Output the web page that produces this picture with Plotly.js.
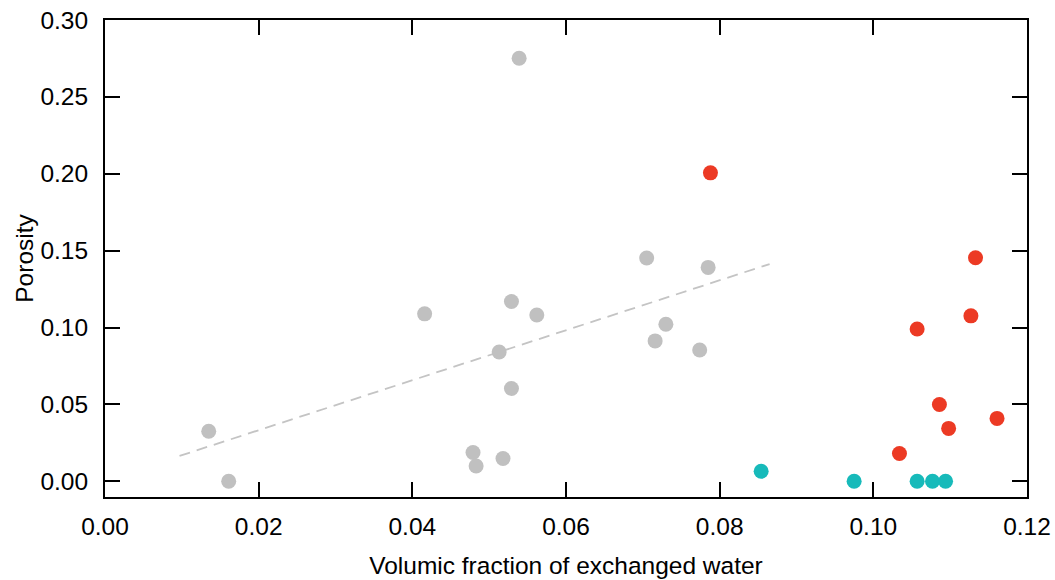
<!DOCTYPE html>
<html>
<head>
<meta charset="utf-8">
<script src="https://cdn.plot.ly/plotly-3.0.1.min.js"></script>
<style>html,body{margin:0;padding:0;background:#fff;}#chart{width:1055px;height:580px;}</style>
</head>
<body>
<div id="chart"></div>
<script>
// Gray group
const grayX = [0.0135, 0.0161, 0.0416, 0.0479, 0.0483, 0.0518, 0.0513, 0.0529, 0.0529, 0.0562, 0.0539, 0.0705, 0.0785, 0.0730, 0.0716, 0.0774];
const grayY = [0.0326, 0.0000, 0.1089, 0.0187, 0.0100, 0.0148, 0.0841, 0.1169, 0.0604, 0.1082, 0.2751, 0.1452, 0.1391, 0.1021, 0.0913, 0.0854];
// Red group
const redX = [0.0788, 0.1133, 0.1127, 0.1057, 0.1086, 0.1161, 0.1098, 0.1034];
const redY = [0.2006, 0.1454, 0.1076, 0.0991, 0.0500, 0.0409, 0.0344, 0.0181];
// Teal group
const tealX = [0.0854, 0.0975, 0.1057, 0.1077, 0.1094];
const tealY = [0.0065, 0.0000, 0.0000, 0.0000, 0.0000];
// Trend line for gray group
const trendX = [0.0097, 0.0865];
const trendY = [0.0165, 0.1413];

const font = {family: 'Liberation Sans, Arial, sans-serif', color: '#000'};

const traces = [
  {x: trendX, y: trendY, mode: 'lines', line: {color: '#c4c4c4', width: 1.8, dash: '11px,7px'}, hoverinfo: 'skip'},
  {x: grayX, y: grayY, mode: 'markers', marker: {color: '#c0c0c0', size: 15}},
  {x: redX, y: redY, mode: 'markers', marker: {color: '#ec3a24', size: 15}},
  {x: tealX, y: tealY, mode: 'markers', marker: {color: '#17baba', size: 15}}
];

const axisCommon = {
  showgrid: false, zeroline: false, showline: true, linecolor: '#000', linewidth: 2,
  mirror: 'ticks', ticks: 'inside', ticklen: 15, tickwidth: 2, tickcolor: '#000',
  tickformat: '.2f', tickfont: Object.assign({size: 24.5}, font), automargin: false
};

const layout = {
  width: 1055, height: 580,
  margin: {l: 105.3, r: 28.3, t: 20.3, b: 83.3},
  paper_bgcolor: '#fff', plot_bgcolor: '#fff',
  showlegend: false,
  font: font,
  xaxis: Object.assign({}, axisCommon, {
    range: [0, 0.12], dtick: 0.02, tick0: 0, ticklabelstandoff: 7,
    title: {text: 'Volumic fraction of exchanged water', font: Object.assign({size: 24.5}, font), standoff: 17}
  }),
  yaxis: Object.assign({}, axisCommon, {
    range: [-0.0102, 0.30], dtick: 0.05, tick0: 0, ticklabelstandoff: 10,
    title: {text: 'Porosity', font: Object.assign({size: 24.5}, font), standoff: 0}
  })
};

Plotly.newPlot('chart', traces, layout, {displayModeBar: false, staticPlot: true});
</script>
</body>
</html>
